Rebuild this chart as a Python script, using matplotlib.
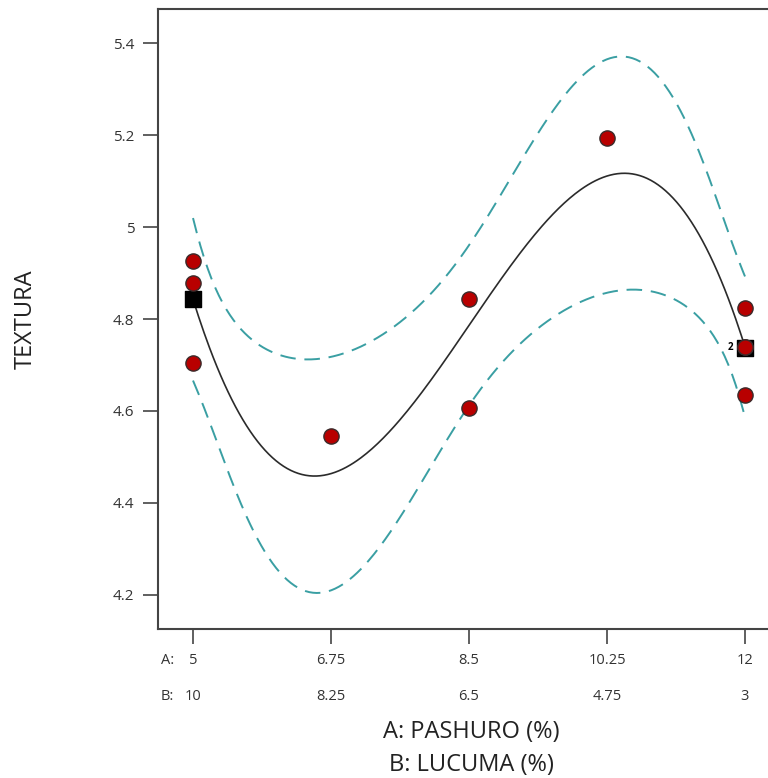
import numpy as np
import matplotlib
matplotlib.use("Agg")
import matplotlib.pyplot as plt
from matplotlib.transforms import blended_transform_factory

plt.rcParams['font.family'] = ['Open Sans', 'DejaVu Sans']

# design points (A: PASHURO %) and observed TEXTURA
pashuro = [5, 5, 5, 6.75, 8.5, 8.5, 10.25, 12, 12, 12, 12]
textura = [4.926, 4.878, 4.704, 4.546, 4.843, 4.606, 5.193, 4.824, 4.739, 4.739, 4.635]

# square markers
sq_x = [5, 12]
sq_y = [4.843, 4.737]

a_ticks = [5, 6.75, 8.5, 10.25, 12]
a_labels = ["5", "6.75", "8.5", "10.25", "12"]
b_labels = ["10", "8.25", "6.5", "4.75", "3"]
y_ticks = [4.2, 4.4, 4.6, 4.8, 5.0, 5.2, 5.4]
y_labels = ["4.2", "4.4", "4.6", "4.8", "5", "5.2", "5.4"]

# band multiplier, tuned to the width of the dashed band in the picture
CI_MULT = 2.64

# cubic fit + confidence band on the mean
x = np.asarray(pashuro, float)
y = np.asarray(textura, float)
X = np.vander(x - 8.5, 4)
beta, *_ = np.linalg.lstsq(X, y, rcond=None)
resid = y - X @ beta
s2 = resid @ resid / (len(y) - 4)
XtX_inv = np.linalg.inv(X.T @ X)

xg = np.linspace(5, 12, 300)
Xg = np.vander(xg - 8.5, 4)
fit = Xg @ beta
se = np.sqrt(s2 * np.einsum("ij,jk,ik->i", Xg, XtX_inv, Xg))
lo, hi = fit - CI_MULT * se, fit + CI_MULT * se

fig = plt.figure(figsize=(7.68, 7.78), dpi=100)
ax = fig.add_axes([158 / 768, 149 / 778, 622 / 768, 620 / 778])

teal = "#3a9fa3"
ax.plot(xg, hi, color=teal, lw=1.4, ls=(0, (8, 4.5)))
ax.plot(xg, lo, color=teal, lw=1.4, ls=(0, (8, 4.5)))
ax.plot(xg, fit, color="#2b2b2b", lw=1.2)
ax.scatter(sq_x, sq_y, marker="s", s=130, color="black", zorder=3)
ax.scatter(pashuro, textura, s=120, color="#b80000", edgecolor="#3a2a2a",
           lw=1.0, zorder=4)
ax.text(11.81, 4.739, "2", fontsize=7, fontweight="bold", ha="center",
        va="center")

ax.set_xlim(4.556, 12.444)
ax.set_ylim(4.126, 5.474)
ax.set_yticks(y_ticks)
ax.set_yticklabels(y_labels, fontsize=11, color="#333333")
ax.set_xticks(a_ticks)
ax.set_xticklabels([])
ax.tick_params(direction="out", length=11, width=1.2, color="#444444")
ax.tick_params(axis="y", pad=6)
for sp in ax.spines.values():
    sp.set_color("#444444")
    sp.set_linewidth(1.5)

tr = blended_transform_factory(ax.transData, fig.transFigure)
for xv, la, lb in zip(a_ticks, a_labels, b_labels):
    ax.text(xv, 1 - 661 / 778, la, transform=tr, ha="center", va="center",
            fontsize=10.5, color="#333333")
    ax.text(xv, 1 - 697 / 778, lb, transform=tr, ha="center", va="center",
            fontsize=10.5, color="#333333")
fig.text(161 / 768, 1 - 661 / 778, "A:", ha="left", va="center",
         fontsize=10.5, color="#333333")
fig.text(161 / 768, 1 - 697 / 778, "B:", ha="left", va="center",
         fontsize=10.5, color="#333333")

fig.text(471 / 768, 1 - 732 / 778, "A: PASHURO (%)", ha="center",
         va="center", fontsize=17, color="#222222")
fig.text(471 / 768, 1 - 765 / 778, "B: LUCUMA (%)", ha="center",
         va="center", fontsize=17, color="#222222")
fig.text(26 / 768, 1 - 319 / 778, "TEXTURA", rotation=90, ha="center",
         va="center", fontsize=17, color="#222222")

fig.savefig("out.png", dpi=100)
